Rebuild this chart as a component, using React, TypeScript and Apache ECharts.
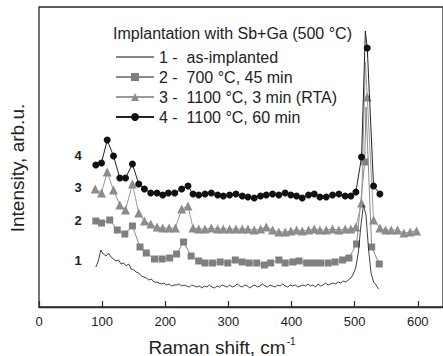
import React, { useEffect, useRef } from 'react';
import * as echarts from 'echarts';

const FONT = '"Liberation Sans", Arial, Helvetica, sans-serif';

const legendTitle = 'Implantation with Sb+Ga (500 °C)';
const seriesNames = [
  '1 - \u00a0as-implanted',
  '2 - \u00a0700 °C, 45 min',
  '3 - \u00a01100 °C, 3 min (RTA)',
  '4 - \u00a01100 °C, 60 min',
];
const curveLabels = ['4', '3', '2', '1'];
const curveLabelLevels = [152, 120, 87, 47];

// Series 1: as-implanted, sampled every 4 cm-1 from 90
const s1Start = 90;
const s1Step = 4;
const s1Values = [
  40, 46, 57, 53, 51, 54, 50, 48, 46, 47, 43, 44, 41, 43, 38, 37, 35, 34, 31, 30,
  29, 27, 28, 25, 25, 24, 23, 24, 22, 23, 21, 22, 22, 23, 21, 22, 21, 20, 22, 21,
  20, 21, 19, 21, 20, 22, 20, 19, 21, 20, 22, 21, 20, 22, 20, 21, 23, 21, 20, 22,
  21, 19, 21, 22, 20, 21, 23, 21, 20, 22, 21, 20, 22, 21, 23, 21, 20, 22, 21, 22,
  20, 21, 22, 21, 23, 21, 22, 20, 23, 21, 22, 24, 22, 23, 24, 23, 25, 24, 26, 25,
  27, 29, 33, 40, 55, 82, 102, 92, 58, 34, 25, 22, 18,
];

// Series 2: 700 °C, 45 min (squares)
const s2X = [
  90, 99, 112, 124, 136, 148, 160, 170, 183, 195, 207, 218, 229, 241, 253, 263, 275, 287, 299, 311,
  322, 333, 345, 357, 367, 380, 390, 402, 412, 424, 435, 446, 458, 469, 481, 491, 503, 516, 527, 539,
];
const s2Y = [
  86, 84, 87, 77, 73, 81, 60, 54, 48, 48, 49, 53, 65, 51, 46, 44, 44, 45, 44, 47,
  45, 44, 44, 42, 44, 47, 44, 45, 46, 44, 44, 44, 44, 45, 47, 49, 63, 145, 60, 43,
];
const s2Peak = [518, 200];

// Series 3: 1100 °C, 3 min RTA (triangles)
const s3X = [
  89, 99, 108, 118, 128, 137, 148, 158, 167, 177, 187, 196, 206, 216, 226, 236, 244, 253, 263, 273,
  283, 292, 302, 312, 322, 331, 341, 351, 360, 370, 380, 390, 399, 408, 417, 427, 436, 445, 455, 465,
  475, 485, 494, 502, 511, 520, 530, 540, 549, 558, 568, 578, 588, 598,
];
const s3Y = [
  118, 114, 135, 117, 102, 97, 123, 94, 86, 83, 80, 79, 79, 79, 98, 101, 79, 78, 78, 79,
  78, 78, 78, 78, 78, 78, 77, 78, 80, 77, 75, 75, 76, 77, 76, 77, 78, 77, 77, 78,
  77, 78, 78, 80, 104, 210, 87, 79, 77, 77, 77, 74, 75, 76,
];
const s3Peak = [517, 245];

// Series 4: 1100 °C, 60 min (circles)
const s4X = [
  90, 99, 108, 118, 128, 137, 148, 158, 167, 177, 187, 196, 205, 215, 226, 236, 244, 253, 263, 273,
  283, 292, 302, 312, 322, 331, 341, 351, 360, 370, 380, 390, 399, 408, 417, 427, 436, 445, 455, 465,
  475, 485, 494, 502, 511, 520, 530, 540,
];
const s4Y = [
  142, 144, 167, 151, 129, 129, 143, 123, 118, 114, 114, 112, 114, 114, 118, 121, 113, 112, 113, 114,
  112, 111, 112, 113, 111, 110, 109, 111, 112, 113, 112, 114, 112, 111, 109, 112, 113, 110, 110, 112,
  113, 111, 111, 115, 150, 259, 121, 113,
];
const s4Peak = [517, 276];

function withPeak(xs: number[], ys: number[], peak: number[]) {
  const pts: any[] = xs.map((x, i) => [x, ys[i]]);
  const idx = pts.findIndex((p) => p[0] > peak[0]);
  pts.splice(idx, 0, { value: [peak[0], peak[1]], symbol: 'none' });
  return pts;
}

export default function App() {
  const ref = useRef<HTMLDivElement>(null);
  useEffect(() => {
    document.body.style.margin = '0';
    const chart = echarts.init(ref.current!, null, { renderer: 'svg' });
    const axisColor = '#2a2a2a';
    const s1Data = s1Values.map((v, i) => [s1Start + s1Step * i, v]);
    const option: any = {
      animation: false,
      backgroundColor: '#ffffff',
      textStyle: { fontFamily: FONT },
      grid: {
        left: 39,
        top: 7,
        width: 405.3,
        height: 300,
        show: true,
        borderColor: axisColor,
        borderWidth: 1.3,
      },
      xAxis: {
        type: 'value',
        min: 0,
        max: 640,
        interval: 100,
        axisLine: { lineStyle: { color: axisColor, width: 1.3 } },
        axisTick: { inside: true, length: 6, lineStyle: { color: axisColor, width: 1.2 } },
        axisLabel: { showMaxLabel: false, fontSize: 13, color: '#222', margin: 8, fontFamily: FONT },
        splitLine: { show: false },
      },
      yAxis: { type: 'value', min: 0, max: 300, show: false },
      legend: {
        orient: 'vertical',
        left: 110,
        top: 43,
        itemWidth: 38,
        itemHeight: 10,
        itemGap: 2,
        textStyle: { fontSize: 16, color: '#222', fontFamily: FONT, lineHeight: 18 },
        data: [
          { name: seriesNames[0], icon: 'path://M0,0H38V1H0Z' },
          seriesNames[1],
          seriesNames[2],
          seriesNames[3],
        ],
      },
      graphic: [
        {
          type: 'text',
          x: 113,
          y: 33,
          style: { text: legendTitle, fontSize: 16, fill: '#222', fontFamily: FONT, verticalAlign: 'middle' },
        },
        {
          type: 'text',
          x: 222,
          y: 347,
          style: {
            text: '{a|Raman shift, cm}{b|-1}',
            align: 'center',
            verticalAlign: 'middle',
            rich: {
              a: { fontSize: 19, fill: '#222', fontFamily: FONT },
              b: { fontSize: 10, fill: '#222', fontFamily: FONT, padding: [0, 0, 12, 1] },
            },
          },
        },
        {
          type: 'text',
          x: 17,
          y: 168,
          rotation: Math.PI / 2,
          style: {
            text: 'Intensity, arb.u.',
            fontSize: 19,
            fill: '#222',
            fontFamily: FONT,
            align: 'center',
            verticalAlign: 'middle',
          },
        },
        ...curveLabels.map((t, i) => ({
          type: 'text',
          x: 78,
          y: 307 - curveLabelLevels[i],
          style: {
            text: t,
            fontSize: 13,
            fontWeight: 'bold',
            fill: '#222',
            fontFamily: FONT,
            align: 'center',
            verticalAlign: 'middle',
          },
        })),
      ],
      series: [
        {
          name: seriesNames[0],
          type: 'line',
          data: s1Data,
          symbol: 'none',
          lineStyle: { color: '#111', width: 0.8 },
          itemStyle: { color: '#111' },
          z: 5,
        },
        {
          name: seriesNames[1],
          type: 'line',
          data: withPeak(s2X, s2Y, s2Peak),
          symbol: 'rect',
          symbolSize: 7,
          lineStyle: { color: '#8a8a8a', width: 1 },
          itemStyle: { color: '#7f7f7f' },
          z: 2,
        },
        {
          name: seriesNames[2],
          type: 'line',
          data: withPeak(s3X, s3Y, s3Peak),
          symbol: 'triangle',
          symbolSize: 9,
          lineStyle: { color: '#9a9a9a', width: 1 },
          itemStyle: { color: '#8c8c8c' },
          z: 3,
        },
        {
          name: seriesNames[3],
          type: 'line',
          data: withPeak(s4X, s4Y, s4Peak),
          symbol: 'circle',
          symbolSize: 7,
          lineStyle: { color: '#222', width: 1 },
          itemStyle: { color: '#111' },
          z: 4,
        },
      ],
    };
    chart.setOption(option);
    return () => chart.dispose();
  }, []);
  return <div ref={ref} style={{ width: 443, height: 356 }} />;
}
